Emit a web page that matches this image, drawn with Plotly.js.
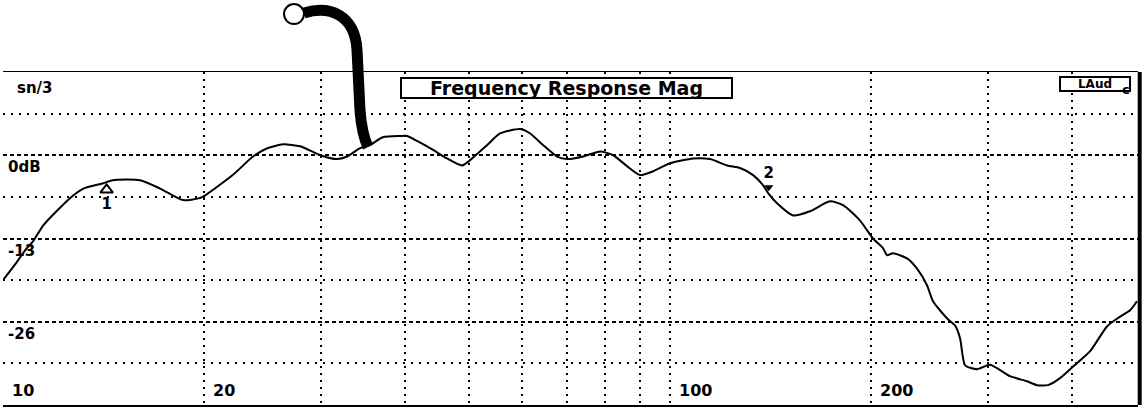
<!DOCTYPE html>
<html>
<head>
<meta charset="utf-8">
<script src="https://cdn.plot.ly/plotly-3.0.1.min.js"></script>
<style>html,body{margin:0;padding:0;background:#fff;}#chart{width:1143px;height:409px;}</style>
</head>
<body>
<div id="chart"></div>
<script>
// Frequency (Hz) and magnitude (dB)
const freq = [10.0,10.5,10.8,11.1,11.5,12.6,13.2,14.1,14.6,16.05,17.2,18.6,19.7,20.2,22.1,23.7,24.9,26.3,27.9,29.9,31.7,32.8,34.3,35.5,37.1,39.4,40.3,43.7,46.3,48.8,50.1,53.2,55.6,59.6,61.7,64.5,67.7,70.1,74.1,78.6,82.2,86.2,90.2,94.3,100,108.3,114.8,121.8,127.3,133.2,137.9,140.3,144.7,152.9,162.1,173.7,181.7,192.7,201.5,208.6,211.5,215.9,226.6,234.6,242.8,247.9,260.3,267.6,272.2,276.9,288.6,301.9,323.4,342.9,354.9,368.7,384.3,402.0,426.4,452.2,472.9,489.5,501.2];
const magDb = [-19.5,-16.6,-14.8,-13.4,-10.9,-6.7,-5.2,-4.4,-3.9,-3.9,-5.2,-7.0,-6.7,-6.1,-3.1,-0.2,1.1,1.7,1.4,0,-0.6,-0.2,1.1,1.6,2.8,3.0,3.0,1.1,-0.5,-1.6,-0.8,1.6,3.4,4.1,3.4,1.6,-0.2,-0.6,-0.2,0.6,0,-1.7,-3.1,-2.5,-1.25,-0.5,-0.6,-1.6,-2.0,-3.1,-4.7,-5.9,-7.5,-9.4,-8.75,-7.2,-7.8,-10.2,-13.0,-14.5,-15.6,-15.3,-16.1,-17.7,-20.3,-22.8,-25.5,-26.6,-28.6,-32.8,-33.4,-32.7,-34.5,-35.3,-35.9,-35.9,-34.8,-33.0,-30.6,-26.7,-25.2,-24.2,-22.8];

// Markers
const marker1Freq = [14.3], marker1Db = [-5.4], marker1Text = ["1"];
const marker2Freq = [140.6], marker2Db = [-5.0], marker2Text = ["2"];

// Axes
const xGridVals = [10,20,30,40,50,60,70,80,90,100,200,300,400];
const xLabelVals = [10,20,100,200];
const xLabelText = ["10","20","100","200"];
const yMajorVals = [0,-13,-26];
const yMinorVals = [6.5,-6.5,-19.5,-32.5];
const yLabelText = ["0dB","-13","-26"];
const xRange = [10, 503];
const yRange = [-39, 13];

const titleText = "Frequency Response Mag";
const unitText = "sn/3";
const chanText = "LAud";

const FONT = "DejaVu Sans";

const traces = [
  {x: freq, y: magDb, type: "scatter", mode: "lines",
   line: {color: "#000", width: 2, shape: "spline", smoothing: 0.6}, hoverinfo: "skip"},
  {x: marker1Freq, y: marker1Db, type: "scatter", mode: "markers+text", text: marker1Text,
   textposition: "bottom center", textfont: {family: FONT, size: 15, color: "#000", weight: 700},
   marker: {symbol: "triangle-up-open", size: 11, color: "#000", line: {width: 2, color: "#000"}}, cliponaxis: false},
  {x: marker2Freq, y: marker2Db, type: "scatter", mode: "markers+text", text: marker2Text,
   textposition: "top center", textfont: {family: FONT, size: 15, color: "#000", weight: 700},
   marker: {symbol: "triangle-down", size: 8, color: "#000"}, cliponaxis: false}
];

const annotations = [];
xLabelVals.forEach((v, i) => annotations.push({
  x: Math.log10(v), xref: "x", y: 0, yref: "paper", text: xLabelText[i],
  xanchor: "left", yanchor: "bottom", xshift: 7, yshift: 3, showarrow: false,
  font: {family: FONT, size: 16, color: "#000", weight: 700}
}));
yMajorVals.forEach((v, i) => annotations.push({
  x: 0, xref: "paper", y: v, yref: "y", text: yLabelText[i],
  xanchor: "left", yanchor: "top", xshift: 3, yshift: -1, showarrow: false,
  font: {family: FONT, size: 15, color: "#000", weight: 700}
}));
annotations.push({x: 0.0105, xref: "paper", y: 0.952, yref: "paper", text: unitText,
  xanchor: "left", yanchor: "middle", showarrow: false,
  font: {family: FONT, size: 15, color: "#000", weight: 700}});
annotations.push({x: 0.4965, xref: "paper", y: 0.952, yref: "paper", text: titleText,
  xanchor: "center", yanchor: "middle", showarrow: false, width: 329, height: 18,
  bgcolor: "#fff", bordercolor: "#000", borderwidth: 2, borderpad: 0,
  font: {family: FONT, size: 19, color: "#000", weight: 700}});
annotations.push({x: 0.9625, xref: "paper", y: 0.963, yref: "paper", text: chanText,
  xanchor: "center", yanchor: "middle", showarrow: false, width: 68, height: 12,
  bgcolor: "#fff", bordercolor: "#000", borderwidth: 2, borderpad: 0,
  font: {family: FONT, size: 12, color: "#000", weight: 700}});
annotations.push({x: 0.9845, xref: "paper", y: 0.948, yref: "paper", text: "c",
  xanchor: "left", yanchor: "middle", showarrow: false,
  font: {family: FONT, size: 13, color: "#000", weight: 700}});

const shapes = [
  // thick right border
  {type: "line", xref: "paper", yref: "paper", x0: 1.0015, x1: 1.0015, y0: 0, y1: 1, line: {color: "#000", width: 4}},
  // cable drawing above the frame
  {type: "path", xref: "paper", yref: "paper",
   path: "M 0.2652 1.1772 C 0.2881 1.2012 0.3101 1.1712 0.3119 1.0661 L 0.3145 0.8859 Q 0.3163 0.8108 0.3216 0.7748",
   line: {color: "#000", width: 11}},
  {type: "circle", xref: "paper", yref: "paper", x0: 0.2476, x1: 0.2652, y0: 1.1441, y1: 1.2042,
   fillcolor: "#fff", line: {color: "#000", width: 2}}
];

const layout = {
  width: 1143, height: 409,
  margin: {l: 3, r: 5, t: 72, b: 4, pad: 0},
  paper_bgcolor: "#fff", plot_bgcolor: "#fff",
  showlegend: false,
  xaxis: {type: "log", range: [Math.log10(xRange[0]), Math.log10(xRange[1])],
    tickmode: "array", tickvals: xGridVals, showticklabels: false, ticks: "",
    showgrid: true, gridcolor: "#000", gridwidth: 2, griddash: "2px,5px",
    showline: true, mirror: true, linecolor: "#000", linewidth: 1.5, zeroline: false, fixedrange: true},
  yaxis: {range: yRange, tickmode: "array", tickvals: yMajorVals, showticklabels: false, ticks: "",
    showgrid: true, gridcolor: "#000", gridwidth: 2, griddash: "4px,3px",
    minor: {tickmode: "array", tickvals: yMinorVals, showgrid: true, gridcolor: "#000", gridwidth: 2, griddash: "2px,6px", ticks: ""},
    showline: false, zeroline: false, fixedrange: true},
  annotations: annotations,
  shapes: shapes
};

Plotly.newPlot("chart", traces, layout, {displayModeBar: false, staticPlot: true});
</script>
</body>
</html>
